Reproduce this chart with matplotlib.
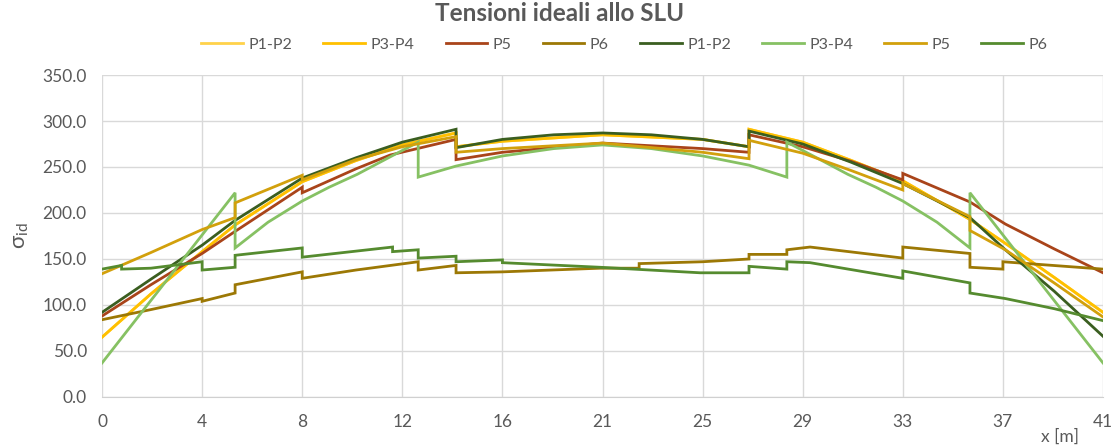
import matplotlib
matplotlib.use("Agg")
import matplotlib.pyplot as plt
import numpy as np

plt.rcParams['font.family'] = ['Lato', 'DejaVu Sans']
plt.rcParams['mathtext.default'] = 'regular'

# stress diagrams along the beam, x in m, sigma in MPa
# repeated x values are the sudden jumps at plate changes
yel_x = [0, 2, 4.1, 5.45, 8.2, 10.4, 12.3, 14.5, 14.5, 16.4, 20.5, 24.6, 26.5, 26.5,
         28.7, 30.7, 32.8, 35.55, 37, 39, 41]
yel_y = [65, 112, 158, 187, 234, 257, 274, 287, 272, 278, 285, 280, 272, 291,
         277, 257, 235, 193, 167, 130, 92]

p5a_x = [0, 2, 4.1, 5.45, 8.2, 8.2, 10.4, 11.8, 14.5, 14.5, 16.4, 20.5, 24.6, 26.5, 26.5,
         28.7, 30.7, 32.8, 32.8, 35.55, 37, 39, 41]
p5a_y = [88, 122, 156, 180, 228, 222, 248, 263, 280, 258, 266, 276, 270, 266, 285,
         272, 256, 236, 243, 212, 188, 161, 135]

p6a_x = [0, 2, 4.1, 4.1, 5.45, 5.45, 8.2, 8.2, 10.4, 12.95, 12.95, 14.5, 14.5, 16.4, 20.4,
         22, 22, 24.6, 26.5, 26.5, 28.05, 28.05, 29, 32.8, 32.8, 35.55, 35.55, 36.9, 36.9, 41]
p6a_y = [84, 95, 107, 104, 113, 122, 136, 129, 138, 147, 138, 143, 135, 136, 140,
         140, 145, 147, 150, 155, 155, 160, 163, 151, 163, 156, 141, 139, 147, 139]

p12b_x = [0, 2, 4.1, 5.45, 8.2, 10.4, 12.3, 14.5, 14.5, 16.4, 18.5, 20.5, 22.5, 24.6, 26.5,
          26.5, 28.7, 30.7, 32.8, 35.55, 37, 39, 41]
p12b_y = [92, 128, 165, 192, 238, 260, 277, 291, 271, 280, 285, 287, 285, 280, 272,
          289, 275, 255, 232, 195, 160, 115, 66]

p34b_x = [0, 5.45, 5.45, 6.8, 8.2, 9.3, 10.45, 11.8, 12.95, 12.95, 14.5, 16.4, 18.5, 20.5,
          22.5, 24.6, 26.5, 28.05, 28.05, 29.2, 30.55, 31.7, 32.8, 34.2, 35.55, 35.55, 41]
p34b_y = [37, 222, 162, 190, 213, 228, 242, 261, 277, 239, 251, 262, 270, 274,
          270, 262, 252, 239, 277, 261, 242, 228, 213, 190, 162, 222, 37]

p5b_x = [0, 2, 4.1, 5.45, 5.45, 8.2, 8.2, 10.4, 12.3, 14.5, 14.5, 16.4, 20.5, 24.6, 26.5,
         26.5, 28.7, 30.7, 32.8, 32.8, 35.55, 35.55, 37, 39, 41]
p5b_y = [134, 157, 182, 195, 211, 241, 236, 258, 272, 283, 266, 270, 276, 266, 259,
         279, 265, 246, 225, 232, 196, 181, 160, 124, 87]

p6b_x = [0, 0.8, 0.8, 2, 4.1, 4.1, 5.45, 5.45, 8.2, 8.2, 11.9, 11.9, 12.95, 12.95, 14.5,
         14.5, 16.4, 16.4, 20.4, 24.5, 26.5, 26.5, 28.05, 28.05, 29, 32.8, 32.8, 35.55,
         35.55, 37, 39, 41]
p6b_y = [139, 143, 139, 140, 147, 138, 141, 154, 162, 152, 163, 158, 160, 151, 153,
         147, 149, 146, 141, 135, 135, 142, 139, 147, 146, 129, 137, 124,
         113, 107, 96, 83]

names = ['P1-P2', 'P3-P4', 'P5', 'P6', 'P1-P2', 'P3-P4', 'P5', 'P6']
colors = ['#FFD24A', '#FFC000', '#A9441A', '#9C7805',
          '#3A5E20', '#86C163', '#D2A00C', '#558B2F']
series_x = [yel_x, yel_x, p5a_x, p6a_x, p12b_x, p34b_x, p5b_x, p6b_x]
series_y = [yel_y, yel_y, p5a_y, p6a_y, p12b_y, p34b_y, p5b_y, p6b_y]

x_ticks = np.arange(11) * 4.1
x_labels = ['0', '4', '8', '12', '16', '21', '25', '29', '33', '37', '41']
y_ticks = np.arange(0, 351, 50)

gray = '#595959'

fig = plt.figure(figsize=(11.19, 4.47), dpi=100)
ax = fig.add_axes([0.0912, 0.1119, 0.8945, 0.7203])

for xs, ys, name, c in zip(series_x, series_y, names, colors):
    ax.plot(xs, ys, color=c, lw=2.0, label=name, solid_joinstyle='miter')

ax.set_xlim(0, 41)
ax.set_ylim(0, 350)
ax.set_xticks(x_ticks)
ax.set_xticklabels(x_labels)
ax.set_yticks(y_ticks)
ax.set_yticklabels(['%.1f' % v for v in y_ticks])
ax.tick_params(length=0, labelsize=12.5, colors=gray)
ax.tick_params(axis='x', pad=12)
ax.tick_params(axis='y', pad=11)
ax.grid(True, color='#D9D9D9', lw=1.0)
ax.set_axisbelow(True)
for side in ['left', 'right', 'top']:
    ax.spines[side].set_visible(False)
ax.spines['bottom'].set_color('#D0D0D0')

ax.set_ylabel(r'$\sigma_{id}$', fontsize=16, color=gray, labelpad=8)
fig.text(0.947, 0.004, 'x [m]', fontsize=12.5, color=gray, ha='center', va='bottom')

fig.suptitle('Tensioni ideali allo SLU', x=0.5, y=0.995, fontsize=17.5,
             fontweight='bold', color=gray, va='top')
fig.legend(loc='center', bbox_to_anchor=(0.558, 0.9), ncol=8, frameon=False,
           fontsize=11.5, handlelength=2.6, columnspacing=1.95, handletextpad=0.35,
           labelcolor=gray)

fig.savefig('out.png', dpi=100)
